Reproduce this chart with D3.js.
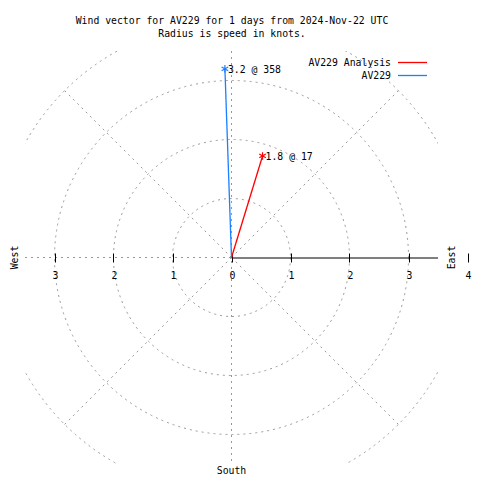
<!DOCTYPE html>
<html>
<head>
<meta charset="utf-8">
<script src="https://cdn.jsdelivr.net/npm/d3@7"></script>
<style>
  html, body { margin: 0; padding: 0; background: #fff; }
  text { font-family: "DejaVu Sans Mono", "Liberation Mono", monospace; font-size: 9.8px; fill: #000; }
</style>
</head>
<body>
<svg id="chart" width="480" height="480"></svg>
<script>
// ---- data ----
const titleLines = ["Wind vector for AV229 for 1 days from 2024-Nov-22 UTC", "Radius is speed in knots."];
const seriesNames = ["AV229 Analysis", "AV229"];
const speeds = [1.8, 3.2];          // knots
const directions = [17, 358];       // degrees
const ringValues = [1, 2, 3, 4];
const spokeAngles = [45, 135, 225, 315];
const tickValues = [-3, -2, -1, 0, 1, 2, 3, 4];
const tickLabels = ["3", "2", "1", "0", "1", "2", "3", "4"];
const compassLabels = ["East", "West", "South"];

(function () {
const svg = d3.select("#chart");
const colors = ["#ff0000", "#1a80ff"];
const pL = 25, pR = 438, pT = 51, pB = 464;
const x = d3.scaleLinear().domain([-3.5, 3.5]).range([pL, pR]);
const y = d3.scaleLinear().domain([-3.5, 3.5]).range([pB, pT]);
const r = d3.scaleLinear().domain([0, 1]).range([0, x(1) - x(0)]);
const cx = x(0), cy = y(0);
const gray = "#999999";
const dash = "2,4";

svg.append("defs").append("clipPath").attr("id", "plot")
  .append("rect").attr("x", pL).attr("y", pT).attr("width", pR - pL).attr("height", pB - pT);

const grid = svg.append("g").attr("clip-path", "url(#plot)");
grid.selectAll("circle").data(ringValues).join("circle")
  .attr("cx", cx).attr("cy", cy).attr("r", d => r(d))
  .attr("fill", "none").attr("stroke", gray).attr("stroke-dasharray", dash);
grid.selectAll("line.spoke").data(spokeAngles).join("line").attr("class", "spoke")
  .attr("x1", cx).attr("y1", cy)
  .attr("x2", d => cx + r(4) * Math.sin(d * Math.PI / 180))
  .attr("y2", d => cy - r(4) * Math.cos(d * Math.PI / 180))
  .attr("stroke", gray).attr("stroke-dasharray", dash);
grid.append("line").attr("x1", cx).attr("x2", cx).attr("y1", pT).attr("y2", pB)
  .attr("stroke", gray).attr("stroke-dasharray", dash);
grid.append("line").attr("x1", pL).attr("x2", cx).attr("y1", cy).attr("y2", cy)
  .attr("stroke", gray).attr("stroke-dasharray", dash);

svg.append("line").attr("x1", cx).attr("x2", pR).attr("y1", cy + 0.5).attr("y2", cy + 0.5)
  .attr("stroke", "#000").attr("stroke-width", 1.2);

const ticks = svg.append("g");
ticks.selectAll("line").data(tickValues).join("line")
  .attr("x1", d => Math.round(x(d)) + 0.5).attr("x2", d => Math.round(x(d)) + 0.5)
  .attr("y1", cy - 4).attr("y2", cy + 5).attr("stroke", "#000");
ticks.selectAll("text").data(tickValues).join("text")
  .attr("x", d => x(d) + 1).attr("y", cy + 21).attr("text-anchor", "middle")
  .text((d, i) => tickLabels[i]);

svg.append("text").attr("transform", `translate(${x(3.5) + 17},${cy}) rotate(-90)`)
  .attr("text-anchor", "middle").text(compassLabels[0]);
svg.append("text").attr("transform", `translate(${pL - 7},${cy}) rotate(-90)`)
  .attr("text-anchor", "middle").text(compassLabels[1]);
svg.append("text").attr("x", cx).attr("y", pB + 10).attr("text-anchor", "middle").text(compassLabels[2]);

svg.selectAll("text.title").data(titleLines).join("text").attr("class", "title")
  .attr("x", 232).attr("y", (d, i) => 24 + i * 13).attr("text-anchor", "middle").text(d => d);

const vec = svg.append("g");
const ends = speeds.map((s, i) => {
  const a = directions[i] * Math.PI / 180;
  return [cx + r(s) * Math.sin(a), cy - r(s) * Math.cos(a)];
});
vec.selectAll("line").data(ends).join("line")
  .attr("x1", cx).attr("y1", cy).attr("x2", d => d[0]).attr("y2", d => d[1])
  .attr("stroke", (d, i) => colors[i]).attr("stroke-width", 1.3);
vec.selectAll("path").data(ends).join("path")
  .attr("transform", d => `translate(${d[0]},${d[1]})`)
  .attr("d", d3.symbol(d3.symbolAsterisk, 40)())
  .attr("fill", "none").attr("stroke", (d, i) => colors[i]).attr("stroke-width", 1.2);
vec.selectAll("text").data(ends).join("text")
  .attr("x", d => d[0] + 3).attr("y", d => d[1] + 4)
  .text((d, i) => `${speeds[i]} @ ${directions[i]}`);

const legend = svg.append("g");
seriesNames.forEach((name, i) => {
  const ly = 62 + i * 13;
  legend.append("text").attr("x", 391).attr("y", ly + 4).attr("text-anchor", "end").text(name);
  legend.append("line").attr("x1", 398).attr("x2", 427).attr("y1", ly + 0.5).attr("y2", ly + 0.5)
    .attr("stroke", colors[i]).attr("stroke-width", 1.3);
});
})();
</script>
</body>
</html>
